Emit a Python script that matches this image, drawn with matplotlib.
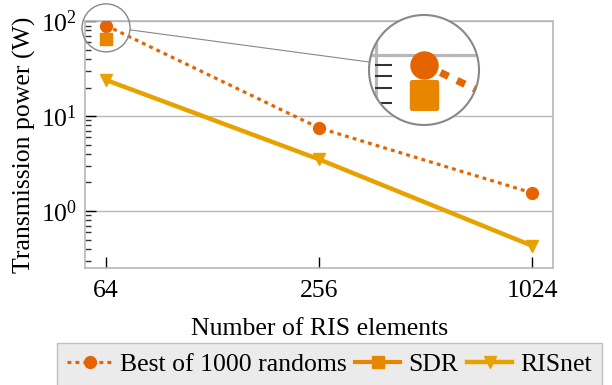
import matplotlib
matplotlib.use("Agg")
import matplotlib.pyplot as plt
from matplotlib.patches import Circle
from matplotlib.lines import Line2D
from matplotlib.ticker import LogLocator, NullFormatter, FixedLocator

plt.rcParams['font.family'] = ['Liberation Serif', 'DejaVu Serif']
plt.rcParams['mathtext.fontset'] = 'stix'
plt.rcParams['font.size'] = 18.5

# data
elements = [64, 256, 1024]
best_random = [90, 7.5, 1.55]
sdr_x = [64]
sdr = [65]
risnet = [24, 3.5, 0.43]

c_best = '#e66400'
c_sdr = '#e88600'
c_ris = '#e8a200'
grey = '#b8b8b8'

fig = plt.figure(figsize=(6.12, 3.85), dpi=100)
ax = fig.add_axes([0.139, 0.304, 0.765, 0.641])

def draw_series(a, s=1.0):
    a.plot(elements, best_random, color=c_best, lw=2.3 * s, ls=(0, (1.2, 1.3)),
           marker='o', ms=8.5 * s, label='Best of 1000 randoms', zorder=3)
    a.plot(sdr_x, sdr, color=c_sdr, lw=3 * s, marker='s', ms=8.5 * s,
           label='SDR', zorder=3)
    a.plot(elements, risnet, color=c_ris, lw=3.2 * s, marker='v', ms=9 * s,
           label='RISnet', zorder=2)

draw_series(ax)
ax.set_xscale('log', base=2)
ax.set_yscale('log')
xlo, xhi = 64 / 2 ** 0.197, 1024 * 2 ** 0.197
ax.set_xlim(xlo, xhi)
ax.set_ylim(10 ** -0.6, 100)
ax.xaxis.set_major_locator(FixedLocator(elements))
ax.set_xticklabels([str(e) for e in elements])
ax.xaxis.set_minor_locator(FixedLocator([]))
ax.yaxis.set_major_locator(LogLocator(base=10, numticks=10))
ax.yaxis.set_minor_locator(LogLocator(base=10, subs=range(2, 10), numticks=20))
ax.yaxis.set_minor_formatter(NullFormatter())
ax.tick_params(which='major', direction='in', length=8, width=1, color='black', pad=6)
ax.tick_params(axis='x', which='major', pad=9)
ax.tick_params(which='minor', direction='in', length=4, width=1, color='#333333')
ax.grid(True, axis='y', which='major', color=grey, lw=1)
for sp in ax.spines.values():
    sp.set_color(grey)
    sp.set_linewidth(1.2)
ax.set_xlabel('Number of RIS elements', labelpad=11)
ax.set_ylabel('Transmission power (W)', labelpad=3)

leg = ax.legend(loc='upper center', bbox_to_anchor=(0.538, 0.109),
                bbox_transform=fig.transFigure, ncol=3, frameon=True,
                fancybox=False, facecolor='#ebebeb', edgecolor='#c0c0c0',
                handlelength=1.75, handletextpad=0.3, columnspacing=0.35,
                borderpad=0.4, borderaxespad=0, numpoints=1)
leg.get_frame().set_alpha(1)

# zoom circle around the first point
center = (64, 85)
r_small = 0.24  # inches
cx, cy = fig.dpi_scale_trans.inverted().transform(ax.transData.transform(center))
small = Circle((cx, cy), r_small, transform=fig.dpi_scale_trans, fill=False,
               ec='#888888', lw=1, zorder=5)
fig.patches.append(small)

big_c = (4.24, 3.85 - 0.70)
r_big = 0.55
mag = r_big / r_small
ax_in = fig.add_axes([(big_c[0] - r_big) / 6.12, (big_c[1] - r_big) / 3.85,
                      2 * r_big / 6.12, 2 * r_big / 3.85])
ax_in.set_axis_off()
clip = Circle((0.5, 0.5), 0.5, transform=ax_in.transAxes)
bg = Circle((0.5, 0.5), 0.5, transform=ax_in.transAxes, fc='white', ec='none', zorder=0)
ax_in.add_patch(bg)
draw_series(ax_in, mag)
ax_in.set_xscale('log', base=2)
ax_in.set_yscale('log')
inv = ax.transData.inverted()
px, py = ax.transData.transform(center)
rp = r_small * fig.dpi
x0, y0 = inv.transform((px - rp, py - rp))
x1, y1 = inv.transform((px + rp, py + rp))
ax_in.set_xlim(x0, x1)
ax_in.set_ylim(y0, y1)
ax_in.axvline(xlo, color=grey, lw=1.0 * mag, zorder=1)
ax_in.axhline(100, color=grey, lw=1.0 * mag, zorder=1)
tick_end = xlo * 2 ** (6.5 / 106.5)
for v in [60, 70, 80, 90]:
    ax_in.plot([xlo, tick_end], [v, v], color='#333333', lw=0.65 * mag, zorder=1)
for art in ax_in.lines + ax_in.patches[1:]:
    art.set_clip_path(clip)
ring = Circle((0.5, 0.5), 0.5, transform=ax_in.transAxes, fill=False,
              ec='#888888', lw=1.5, zorder=6, clip_on=False)
ax_in.add_patch(ring)

# connector line between circles
fig.lines.append(Line2D([cx + r_small, big_c[0] - r_big], [cy - 0.02, big_c[1] + 0.08],
                        transform=fig.dpi_scale_trans, color='#888888', lw=0.8))

fig.savefig('out.png', dpi=100)
